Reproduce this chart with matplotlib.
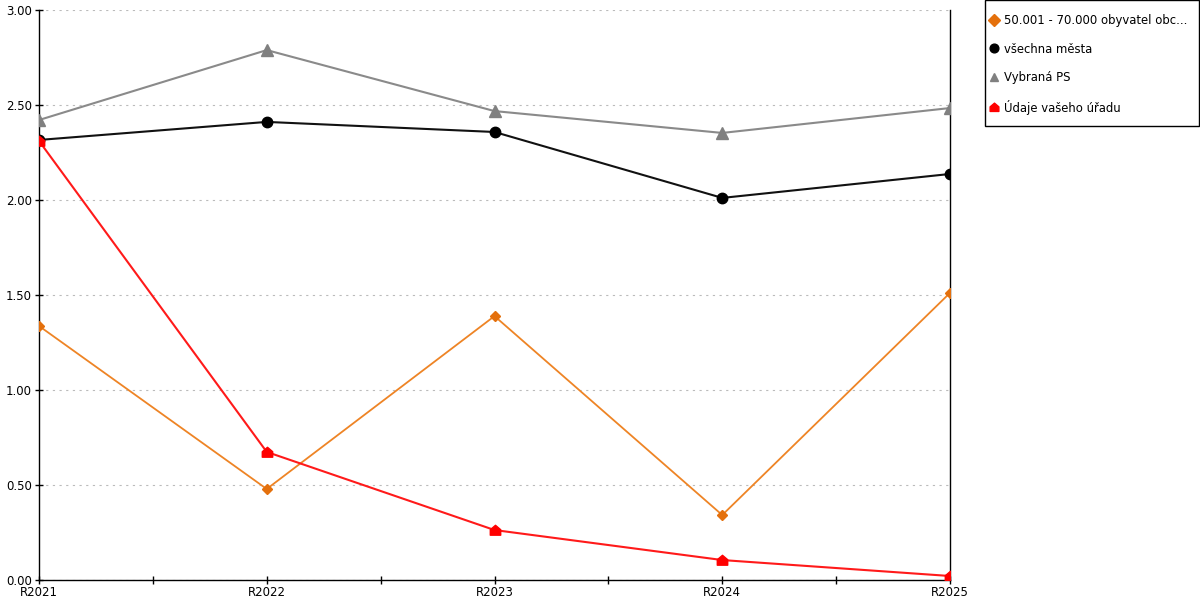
import numpy as np
import matplotlib.pyplot as plt
from matplotlib.path import Path
from matplotlib.patches import Rectangle
from matplotlib.ticker import MultipleLocator, FormatStrFormatter

# =========================
# DATA
# =========================
years = ["R2021", "R2022", "R2023", "R2024", "R2025"]

obce = [1.337, 0.479, 1.389, 0.342, 1.511]
vsechna = [2.316, 2.411, 2.358, 2.011, 2.137]
vybrana = [2.421, 2.789, 2.468, 2.353, 2.484]
urad = [2.311, 0.674, 0.263, 0.105, 0.021]

labels = ["50.001 - 70.000 obyvatel obc...", "všechna města", "Vybraná PS", "Údaje vašeho úřadu"]

# house shaped marker
house = Path([(-1, -0.9), (1, -0.9), (1, 0.15), (0, 1.0), (-1, 0.15), (-1, -0.9)],
             [Path.MOVETO, Path.LINETO, Path.LINETO, Path.LINETO, Path.LINETO, Path.CLOSEPOLY])

plt.rcParams['font.family'] = ['DejaVu Sans']

fig = plt.figure(figsize=(12, 6), dpi=100)
ax = fig.add_axes([39/1200, 20/600, (950-39)/1200, 570/600])

x = np.arange(len(years))

ax.plot(x, obce, color="#ee8425", lw=1.3, marker="D", ms=5.5, mfc="#e4700c", mec="#e4700c", label=labels[0], zorder=3)
ax.plot(x, vsechna, color="#111111", lw=1.5, marker="o", ms=7.5, mfc="black", mec="black", label=labels[1], zorder=3)
ax.plot(x, vybrana, color="#8a8a8a", lw=1.5, marker="^", ms=8, mfc="#808080", mec="#808080", label=labels[2], zorder=3)
ax.plot(x, urad, color="#ff1a1a", lw=1.5, marker=house, ms=7.5, mfc="#ff0000", mec="#ff0000", label=labels[3], zorder=4)

ax.set_xlim(0, len(years) - 1)
ax.set_ylim(0, 3)
ax.set_xticks(x)
ax.set_xticklabels(years)
ax.xaxis.set_minor_locator(MultipleLocator(0.5))
ax.yaxis.set_major_locator(MultipleLocator(0.5))
ax.yaxis.set_major_formatter(FormatStrFormatter("%.2f"))

ax.grid(axis="y", linestyle=(0, (2, 4)), color="#bbbbbb", lw=0.8)
ax.set_axisbelow(True)

ax.spines["top"].set_visible(False)
for s in ["left", "bottom", "right"]:
    ax.spines[s].set_linewidth(1.0)
    ax.spines[s].set_color("black")

ax.tick_params(axis="both", which="both", direction="inout", length=6, width=1, labelsize=8.5)
ax.tick_params(axis="x", which="minor", length=6)
ax.tick_params(axis="x", pad=1)
ax.tick_params(axis="y", pad=2)
ax.tick_params(axis="y", right=False)

# legend box drawn by hand, legend itself without frame
fig.patches.append(Rectangle((985/1200, (600-126)/600), 214/1200, 126/600,
                             transform=fig.transFigure, fill=False, edgecolor="black", lw=1.0))
leg = fig.legend(loc="upper left", bbox_to_anchor=(989/1200, (600-14)/600), bbox_transform=fig.transFigure,
                 fontsize=8.4, frameon=False,
                 handlelength=0.9, handletextpad=0.4, labelspacing=1.33,
                 borderpad=0, borderaxespad=0)
for h in leg.legend_handles:
    h.set_linestyle("none")
    h.set_markersize(6.3)

plt.savefig("out.png", dpi=100)
